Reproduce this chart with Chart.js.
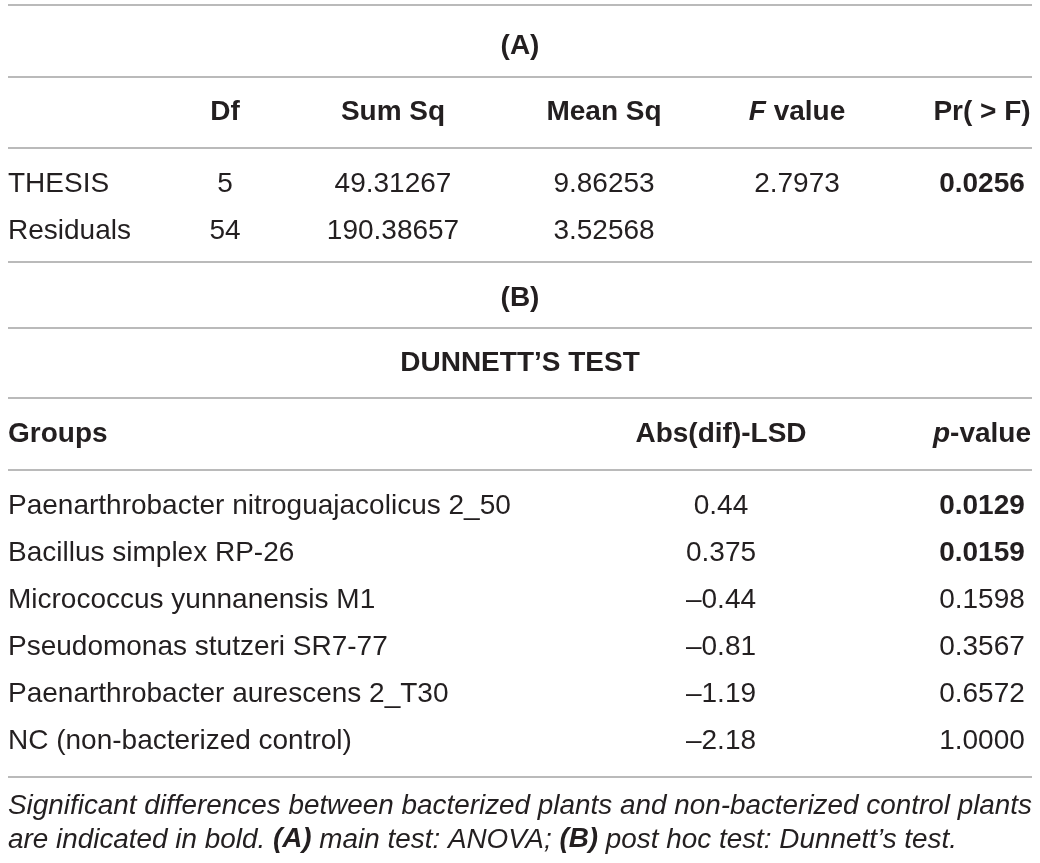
<!DOCTYPE html>
<html>
<head>
<meta charset="utf-8">
<title>ANOVA and Dunnett's test</title>
<script src="https://cdn.jsdelivr.net/npm/chart.js@4"></script>
<style>
  html, body { margin: 0; padding: 0; background: #fff; }
  #wrap { width: 1040px; height: 863px; }
</style>
</head>
<body>
<div id="wrap"><canvas id="table" width="1040" height="863"></canvas></div>
<script>
/* ── Data ─────────────────────────────────────────── */

// (A) ANOVA
const anovaHeaders = ['Df', 'Sum Sq', 'Mean Sq', 'F value', 'Pr( > F)'];
const anovaTerms   = ['THESIS', 'Residuals'];
const anovaDf      = ['5', '54'];
const anovaSumSq   = ['49.31267', '190.38657'];
const anovaMeanSq  = ['9.86253', '3.52568'];
const anovaF       = ['2.7973', ''];
const anovaP       = ['0.0256', ''];
const anovaPBold   = [true, false];

// (B) Dunnett's test
const dunnettHeaders = ['Groups', 'Abs(dif)-LSD', 'p-value'];
const groups = [
  'Paenarthrobacter nitroguajacolicus 2_50',
  'Bacillus simplex RP-26',
  'Micrococcus yunnanensis M1',
  'Pseudomonas stutzeri SR7-77',
  'Paenarthrobacter aurescens 2_T30',
  'NC (non-bacterized control)',
];
const absDifLsd  = ['0.44', '0.375', '\u20130.44', '\u20130.81', '\u20131.19', '\u20132.18'];
const pValues    = ['0.0129', '0.0159', '0.1598', '0.3567', '0.6572', '1.0000'];
const pValueBold = [true, true, false, false, false, false];

/* ── Layout (page units on the hidden scales) ─────── */

const layout = {
  left: 8, right: 1032,
  rules: [5, 77, 148, 262, 328, 398, 470, 777],
  titleA: 46, headA: 112, rowA0: 184, rowStep: 47,
  titleB: 298, testB: 363, headB: 434, rowB0: 506,
  foot: [806, 840],
  colsA: [225, 393, 604, 797, 982],
  colsB: [721, 982],
};

const FONT  = '"Liberation Sans", Arial, sans-serif';
const SIZE  = 28;
const INK   = '#231f20';
const RULE  = '#a3a3a3';

/* ── Drawing helpers ──────────────────────────────── */

function font(run, size) {
  return `${run.i ? 'italic ' : ''}${run.b ? 'bold ' : ''}${size}px ${FONT}`;
}

function runsWidth(ctx, runs, size) {
  let w = 0;
  runs.forEach(r => { ctx.font = font(r, size); w += ctx.measureText(r.t).width; });
  return w;
}

// draw a list of styled text runs; align = left | center | right
function drawRuns(ctx, runs, px, py, align, size, sx = 1) {
  const w = runsWidth(ctx, runs, size) * sx;
  let x = align === 'center' ? px - w / 2 : align === 'right' ? px - w : px;
  ctx.save();
  ctx.textAlign = 'left';
  ctx.textBaseline = 'middle';
  ctx.fillStyle = INK;
  runs.forEach(r => {
    ctx.font = font(r, size);
    ctx.save();
    ctx.translate(x, py);
    ctx.scale(sx, 1);
    ctx.fillText(r.t, 0, 0);
    ctx.restore();
    x += ctx.measureText(r.t).width * sx;
  });
  ctx.restore();
}

// header label with italic lead letter ("F value", "p-value")
function headerRuns(label) {
  if (label === 'F value') return [{ t: 'F', b: true, i: true }, { t: ' value', b: true }];
  if (label === 'p-value') return [{ t: 'p', b: true, i: true }, { t: '-value', b: true }];
  return [{ t: label, b: true }];
}

const tablePlugin = {
  id: 'tableCells',
  afterDraw(chart) {
    const { ctx, scales: { x, y } } = chart;
    const X = v => x.getPixelForValue(v);
    const Y = v => y.getPixelForValue(v);
    const L = layout;

    // horizontal rules
    ctx.save();
    ctx.strokeStyle = RULE;
    ctx.lineWidth = 1.5;
    L.rules.forEach(r => {
      ctx.beginPath();
      ctx.moveTo(X(L.left), Y(r));
      ctx.lineTo(X(L.right), Y(r));
      ctx.stroke();
    });
    ctx.restore();

    // (A) ANOVA
    drawRuns(ctx, [{ t: '(A)', b: true }], X(520), Y(L.titleA), 'center', SIZE);
    anovaHeaders.forEach((h, c) => {
      drawRuns(ctx, headerRuns(h), X(L.colsA[c]), Y(L.headA), 'center', SIZE);
    });
    anovaTerms.forEach((term, r) => {
      const yy = Y(L.rowA0 + r * L.rowStep);
      const cells = [anovaDf[r], anovaSumSq[r], anovaMeanSq[r], anovaF[r], anovaP[r]];
      drawRuns(ctx, [{ t: term }], X(L.left), yy, 'left', SIZE);
      cells.forEach((v, c) => {
        if (!v) return;
        const bold = c === 4 && anovaPBold[r];
        drawRuns(ctx, [{ t: v, b: bold }], X(L.colsA[c]), yy, 'center', SIZE);
      });
    });

    // (B) Dunnett's test
    drawRuns(ctx, [{ t: '(B)', b: true }], X(520), Y(L.titleB), 'center', SIZE);
    drawRuns(ctx, [{ t: 'DUNNETT\u2019S TEST', b: true }], X(520), Y(L.testB), 'center', SIZE);
    drawRuns(ctx, headerRuns(dunnettHeaders[0]), X(L.left), Y(L.headB), 'left', SIZE);
    drawRuns(ctx, headerRuns(dunnettHeaders[1]), X(L.colsB[0]), Y(L.headB), 'center', SIZE);
    drawRuns(ctx, headerRuns(dunnettHeaders[2]), X(L.colsB[1]), Y(L.headB), 'center', SIZE);
    groups.forEach((g, r) => {
      const yy = Y(L.rowB0 + r * L.rowStep);
      drawRuns(ctx, [{ t: g }], X(L.left), yy, 'left', SIZE);
      drawRuns(ctx, [{ t: absDifLsd[r] }], X(L.colsB[0]), yy, 'center', SIZE);
      drawRuns(ctx, [{ t: pValues[r], b: pValueBold[r] }], X(L.colsB[1]), yy, 'center', SIZE);
    });

    // footnote (condensed italic, first line spans the table width)
    const foot1 = [{ t: 'Significant differences between bacterized plants and non-bacterized control plants', i: true }];
    const foot2 = [
      { t: 'are indicated in bold. ', i: true },
      { t: '(A)', i: true, b: true },
      { t: ' main test: ANOVA; ', i: true },
      { t: '(B)', i: true, b: true },
      { t: ' post hoc test: Dunnett\u2019s test.', i: true },
    ];
    const fs = 27;
    const sx = (X(L.right) - X(L.left)) / runsWidth(ctx, foot1, fs);
    drawRuns(ctx, foot1, X(L.left), Y(L.foot[0]), 'left', fs, sx);
    drawRuns(ctx, foot2, X(L.left), Y(L.foot[1]), 'left', fs, sx);
  },
};

/* ── Chart ────────────────────────────────────────── */

new Chart(document.getElementById('table'), {
  type: 'scatter',
  data: { datasets: [] },
  options: {
    responsive: false,
    animation: false,
    layout: { padding: 0 },
    scales: {
      x: { type: 'linear', display: false, min: 0, max: 1040 },
      y: { type: 'linear', display: false, min: 0, max: 863, reverse: true },
    },
    plugins: {
      legend:  { display: false },
      tooltip: { enabled: false },
    },
  },
  plugins: [tablePlugin],
});
</script>
</body>
</html>
